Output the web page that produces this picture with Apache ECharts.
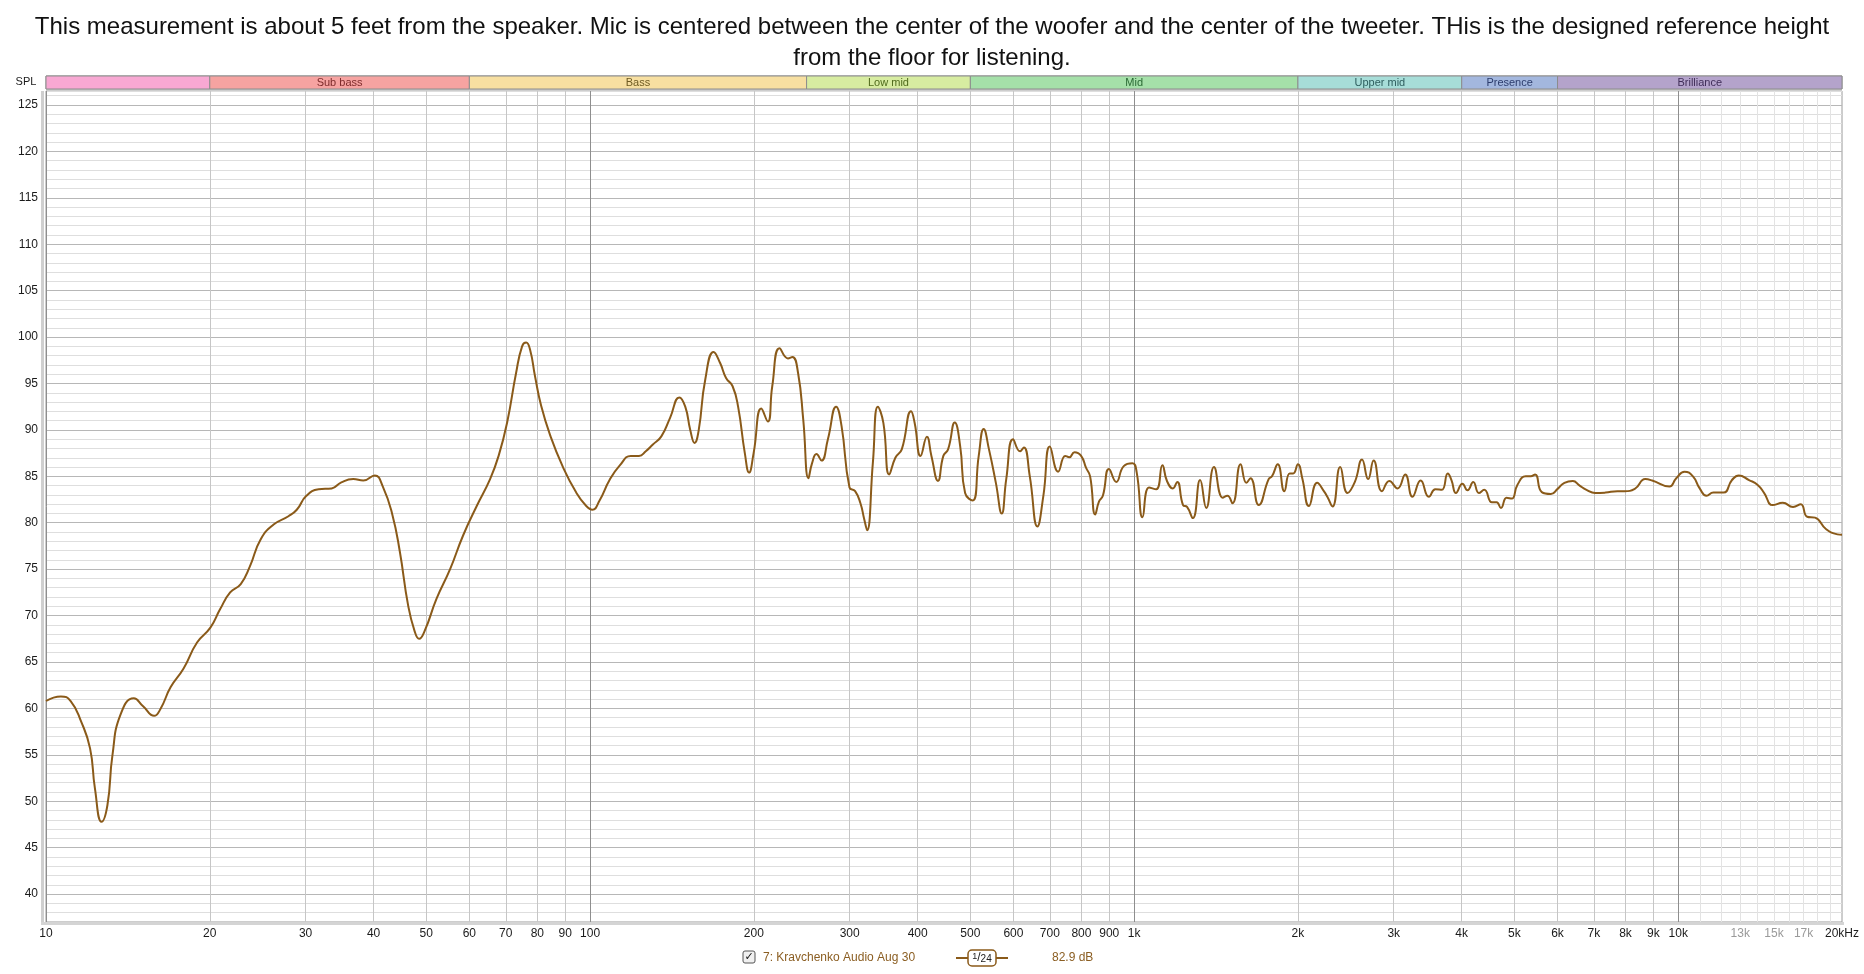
<!DOCTYPE html>
<html><head><meta charset="utf-8">
<script src="https://cdn.jsdelivr.net/npm/echarts@6/dist/echarts.min.js"></script>
<style>html,body{margin:0;padding:0;background:#fff}#c{width:1864px;height:974px}</style>
</head><body><div id="c"></div>
<script>
// ---------- DATA ----------
const titleLines = [
  'This measurement is about 5 feet from the speaker. Mic is centered between the center of the woofer and the center of the tweeter. THis is the designed reference height',
  'from the floor for listening.'
];
const seriesName = '7: Kravchenko Audio Aug 30';
const smoothingLabel = ['1', '24'];
const levelLabel = '82.9 dB';

const freqs = [10,10.65,11.1,11.6,12.05,12.3,12.65,12.97,13.25,13.7,14.5,15.1,15.8,16.25,16.95,17.9,18.95,20.05,20.9,21.8,22.8,23.7,24.8,26.2,27.9,28.9,30.1,31.7,33.5,34.9,36.7,38.3,40.2,41.6,43.3,44.7,46.3,47.6,48.5,49.7,52.2,55.3,58.4,61.9,65.5,67.9,70.4,73.1,75,76.3,77.6,79.2,81.3,84.6,89,94.2,98.4,101,104.1,108.6,113.5,118.8,123,126.6,130.3,135.2,140.3,145.9,149.6,152.8,155.6,158.4,162.8,168.7,173.4,177.8,182.8,187.1,192.5,196,199.8,206.4,212.2,216.2,223,231,235.4,241.2,246.5,252,255.8,260.7,266.3,273.6,283.3,289.9,299.8,307,314,319,323,331,338,346,354.7,364,374,389,395,405,416,424,436,446,455,468,479,489,505,518,529,541,557,571,582,599,617,627,643,664,681,700,725,747,760,777,799,816,830,848,862,876,899,927,957,993,1011,1036,1065,1098,1127,1149,1178,1200,1230,1251,1282,1322,1357,1402,1455,1484,1516,1569,1608,1636,1694,1767,1792,1836,1888,1931,1960,2000,2037,2095,2170,2232,2265,2315,2392,2467,2545,2623,2692,2755,2854,2944,3049,3149,3247,3362,3481,3578,3677,3771,3830,3904,4012,4100,4200,4302,4400,4545,4637,4722,4836,4945,5065,5245,5357,5457,5614,5834,6003,6178,6402,6589,6782,7035,7351,7733,7963,8322,8696,8954,9635,9918,10271,10643,10951,11273,11604,12115,12556,12924,13492,13982,14389,14911,15568,16255,16800,17256,17844,18706,19619,20000];
const spl = [60.8,61.3,60.8,58.6,55.7,51.4,47.8,49.6,55.0,59.3,61.1,60.2,59.2,60.0,62.3,64.3,67.1,68.7,70.7,72.5,73.4,75.3,78.2,79.8,80.7,81.4,82.9,83.6,83.7,84.35,84.7,84.55,85.1,83.9,80.9,76.9,71.1,68.3,67.5,68.4,71.8,75.0,78.6,81.8,84.7,87.2,90.8,96.1,99.0,99.4,98.6,95.8,92.6,89.3,86.1,83.3,81.8,81.4,82.4,84.6,86.2,87.2,87.2,87.7,88.4,89.3,91.3,93.5,92.5,90.0,88.6,90.0,95.4,98.4,97.2,95.6,94.7,92.5,87.5,85.4,87.5,92.3,90.9,94.7,98.8,97.7,97.85,96.1,91.1,84.8,86.4,87.4,86.7,89.0,92.5,90.4,83.8,83.4,82.1,80.4,79.2,86.5,92.5,90.75,85.2,87.0,87.9,92.0,90.75,87.2,89.25,87.2,84.5,87.2,87.9,90.8,88.2,83.2,82.4,87.2,90.1,87.9,84.3,81.0,84.7,89.0,87.7,88.1,85.0,79.6,82.9,88.2,85.5,87.2,87.05,87.6,87.2,85.9,85.0,80.9,82.3,82.9,85.8,84.4,86.1,86.4,85.4,80.6,83.8,83.6,86.2,84.5,83.7,84.4,81.9,81.7,80.5,84.6,81.6,86.0,82.7,82.9,82.1,86.3,84.3,84.8,81.9,84.7,85.0,86.3,83.4,85.3,85.3,86.3,84.8,81.8,84.3,83.4,82.8,81.75,86.0,83.2,84.4,86.8,84.7,86.7,83.4,84.5,83.7,85.2,82.8,84.55,82.8,83.6,83.55,85.3,84.6,83.2,84.2,83.5,84.4,83.2,83.55,82.2,82.2,81.6,82.7,82.6,84.1,85.0,85.0,85.2,83.3,83.1,83.65,84.3,84.5,84.0,83.55,83.2,83.25,83.4,83.4,83.65,84.7,84.55,83.9,84.8,85.5,85.0,83.7,82.9,83.25,83.25,84.6,85.1,84.6,84.1,83.2,81.9,82.15,81.7,82.0,80.65,80.55,79.3,78.75,78.7];

const bandNames = ['', 'Sub bass', 'Bass', 'Low mid', 'Mid', 'Upper mid', 'Presence', 'Brilliance'];
const bandEdges = [10, 20, 60, 250, 500, 2000, 4000, 6000, 20000];
const bandColors = ['#f8a8d3', '#f6a3a1', '#f7dfa1', '#d7eca1', '#a5e0a9', '#a7ddd8', '#a3b7de', '#b4a3cb'];
const bandTextColors = ['#000', '#7d2b2b', '#6e5a22', '#4f6a1c', '#2b6a35', '#2e5e5e', '#2c3c6c', '#3f2d58'];

const xTickValues = [10,20,30,40,50,60,70,80,90,100,200,300,400,500,600,700,800,900,1000,2000,3000,4000,5000,6000,7000,8000,9000,10000,11000,12000,13000,14000,15000,16000,17000,18000,19000,20000];
const xTickLabels = ['10','20','30','40','50','60','70','80','90','100','200','300','400','500','600','700','800','900','1k','2k','3k','4k','5k','6k','7k','8k','9k','10k','','','13k','','15k','','17k','','','20kHz'];
const yMin = 37, yMax = 126.5, yMajorStep = 5;

// ---------- CHART ----------
const FONT = '"Liberation Sans", Arial, sans-serif';
const LINE_COLOR = '#8a5a19';
const chart = echarts.init(document.getElementById('c'), null, {renderer: 'canvas'});

const vLines = xTickValues.map((v, i) => {
  const decade = [10, 100, 1000, 10000].includes(v);
  let color = decade ? '#8e8e8e' : (v > 10000 ? '#e3e3e3' : '#c6c6c6');
  if (v === 20000) color = 'rgba(0,0,0,0)';
  const grey = [13000, 15000, 17000].includes(v);
  return {
    xAxis: v,
    lineStyle: {color: color, width: 1, type: 'solid'},
    label: {show: xTickLabels[i] !== '', formatter: xTickLabels[i], position: 'start', distance: 6,
      color: grey ? '#9a9a9a' : '#1a1a1a', fontSize: 12, fontFamily: FONT}
  };
});

const bandAreas = bandNames.map((n, i) => [
  {xAxis: bandEdges[i], itemStyle: {color: bandColors[i], borderColor: '#8d8d8d', borderWidth: 1},
   label: {show: n !== '', formatter: n, position: 'inside', color: bandTextColors[i], fontSize: 11, fontFamily: FONT}},
  {xAxis: bandEdges[i + 1]}
]);

const hColors = [];
for (let k = 0; k < yMajorStep; k++) {
  const val = yMin + k;
  hColors.push(val % yMajorStep === 0 ? '#b7b7b7' : '#dedede');
}

chart.setOption({
  animation: false,
  backgroundColor: '#ffffff',
  title: {
    text: titleLines.join('\n'), left: 'center', top: 7,
    textStyle: {fontSize: 24, fontWeight: 'normal', color: '#111', fontFamily: FONT, lineHeight: 31}
  },
  grid: [
    {left: 46, right: 22, top: 91, bottom: 52, show: true, borderColor: '#9a9a9a', borderWidth: 1, backgroundColor: '#fff', z: 0},
    {left: 46, right: 22, top: 76, height: 13, show: true, borderColor: '#8d8d8d', borderWidth: 1}
  ],
  xAxis: [
    {type: 'log', logBase: 10, min: 10, max: 20000, gridIndex: 0,
     axisLine: {show: false}, axisTick: {show: false}, axisLabel: {show: false}, splitLine: {show: false}},
    {type: 'log', logBase: 10, min: 10, max: 20000, gridIndex: 1,
     axisLine: {show: false}, axisTick: {show: false}, axisLabel: {show: false}, splitLine: {show: false}}
  ],
  yAxis: [
    {type: 'value', min: yMin, max: yMax, interval: 1, gridIndex: 0,
     axisLine: {show: false}, axisTick: {show: false},
     axisLabel: {show: true, margin: 8, color: '#1a1a1a', fontSize: 12, fontFamily: FONT,
       formatter: v => (Math.abs(v % yMajorStep) < 1e-6 ? String(v) : '')},
     splitLine: {show: true, lineStyle: {color: hColors, width: 1}}},
    {type: 'value', min: 0, max: 1, gridIndex: 1, show: false, splitLine: {show: false}}
  ],
  graphic: [
    {type: 'rect', shape: {x: 41, y: 91, width: 3, height: 833}, style: {fill: '#cfcfcf'}, z: 1},
    {type: 'rect', shape: {x: 41, y: 922, width: 1803, height: 3}, style: {fill: '#d4d4d4'}, z: 1},
    {type: 'text', x: 26, y: 82, style: {text: 'SPL', fill: '#1a1a1a', font: '11px ' + FONT, textAlign: 'center', textVerticalAlign: 'middle'}},
    {type: 'rect', shape: {x: 743, y: 951, width: 12, height: 12, r: 2}, style: {fill: '#f0f0f0', stroke: '#555', lineWidth: 1}},
    {type: 'text', x: 749, y: 957, style: {text: '✓', fill: '#111', font: 'bold 11px "DejaVu Sans"', textAlign: 'center', textVerticalAlign: 'middle'}},
    {type: 'text', x: 763, y: 958, style: {text: seriesName, fill: '#8b5e22', font: '12px ' + FONT, textVerticalAlign: 'middle'}},
    {type: 'line', shape: {x1: 956, y1: 958, x2: 1008, y2: 958}, style: {stroke: LINE_COLOR, lineWidth: 2}},
    {type: 'rect', shape: {x: 968, y: 950, width: 28, height: 16, r: 4}, style: {fill: '#fff', stroke: LINE_COLOR, lineWidth: 1.5}},
    {type: 'text', x: 982, y: 958, style: {
      text: '{a|' + smoothingLabel[0] + '}{s|/}{b|' + smoothingLabel[1] + '}',
      rich: {a: {fontSize: 9, fill: '#222', verticalAlign: 'top', fontFamily: FONT},
             s: {fontSize: 12, fill: '#222', fontFamily: FONT},
             b: {fontSize: 10, fill: '#222', verticalAlign: 'bottom', fontFamily: FONT}},
      textAlign: 'center', textVerticalAlign: 'middle'}},
    {type: 'text', x: 1052, y: 958, style: {text: levelLabel, fill: '#8b5e22', font: '12px ' + FONT, textVerticalAlign: 'middle'}}
  ],
  series: [
    {type: 'line', xAxisIndex: 0, yAxisIndex: 0, data: [], silent: true, z: 1,
     markLine: {silent: true, symbol: ['none', 'none'], animation: false, data: vLines}},
    {type: 'line', name: seriesName, xAxisIndex: 0, yAxisIndex: 0, z: 5,
     data: freqs.map((f, i) => [f, spl[i]]),
     showSymbol: false, smooth: 0.5,
     lineStyle: {color: LINE_COLOR, width: 2}, itemStyle: {color: LINE_COLOR}},
    {type: 'line', xAxisIndex: 1, yAxisIndex: 1, data: [], silent: true,
     markArea: {silent: true, data: bandAreas}}
  ]
});
</script></body></html>
